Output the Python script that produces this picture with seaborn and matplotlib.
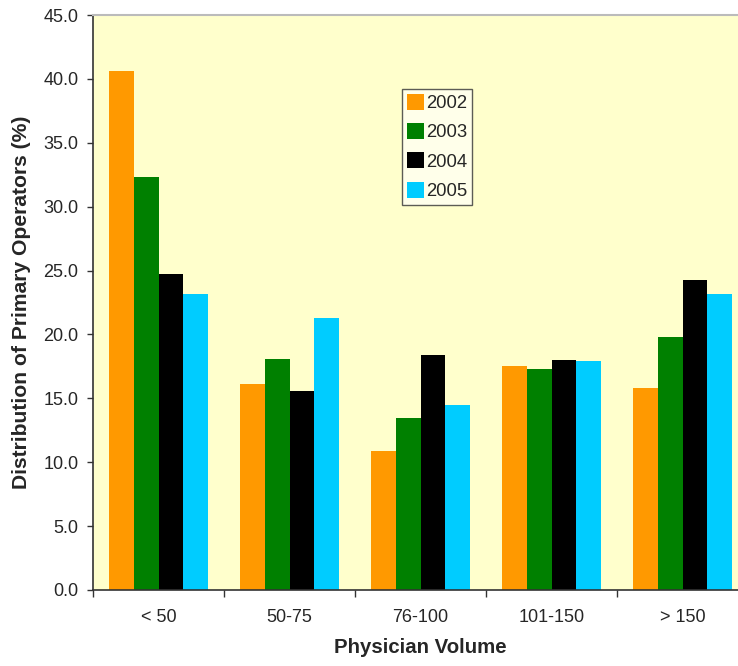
import matplotlib
matplotlib.use("Agg")
import matplotlib.pyplot as plt
import seaborn as sns
import pandas as pd
import numpy as np

categories = ["< 50", "50-75", "76-100", "101-150", "> 150"]
years = ["2002", "2003", "2004", "2005"]
values_2002 = [40.6, 16.1, 10.9, 17.5, 15.8]
values_2003 = [32.3, 18.1, 13.5, 17.3, 19.8]
values_2004 = [24.7, 15.6, 18.4, 18.0, 24.3]
values_2005 = [23.2, 21.3, 14.5, 17.9, 23.2]
colors = ["#FF9900", "#008000", "#000000", "#00CCFF"]
y_ticks = np.arange(0, 45.1, 5)

series = [values_2002, values_2003, values_2004, values_2005]
df = pd.DataFrame(
    [(c, y, v) for y, vals in zip(years, series) for c, v in zip(categories, vals)],
    columns=["volume", "year", "pct"],
)

sns.set_style("white")
plt.rcParams["font.family"] = ["Liberation Sans", "DejaVu Sans"]

fig = plt.figure(figsize=(7.38, 6.66), dpi=100)
ax = fig.add_axes([93 / 738, 76 / 666, 655 / 738, 575 / 666])
ax.set_facecolor("#FFFFCC")

sns.barplot(data=df, x="volume", y="pct", hue="year", order=categories,
            hue_order=years, palette=colors, width=0.75, saturation=1,
            linewidth=0, ax=ax)

ax.set_ylim(0, 45)
ax.set_xlim(-0.5, 4.5)
ax.set_yticks(y_ticks)
ax.set_yticklabels([f"{t:.1f}" for t in y_ticks], fontsize=13)

# category boundaries carry the tick marks, centers carry the labels
ax.set_xticks(np.arange(-0.5, 4.6, 1))
ax.set_xticklabels([])
ax.set_xticks(np.arange(len(categories)), minor=True)
ax.set_xticklabels(categories, minor=True, fontsize=13)
ax.tick_params(axis="x", which="minor", length=0, pad=13.5)
ax.tick_params(axis="x", which="major", direction="out", length=5, width=1,
               color="#333333", bottom=True)
ax.tick_params(axis="y", direction="out", length=4.5, width=1, color="#333333",
               left=True, pad=6)

for side in ["left", "bottom"]:
    ax.spines[side].set_color("#333333")
    ax.spines[side].set_linewidth(1.2)
ax.spines["top"].set_color("#BBBBBB")
ax.spines["top"].set_linewidth(1.5)
ax.spines["right"].set_visible(False)

ax.set_xlabel("Physician Volume", fontsize=14.7, fontweight="bold", labelpad=9)
ax.set_ylabel("Distribution of Primary Operators (%)", fontsize=15.2,
              fontweight="bold", labelpad=8.5)

leg = ax.legend(loc="upper left", bbox_to_anchor=(402 / 738, 1 - 89 / 666),
                bbox_transform=fig.transFigure, frameon=True, fontsize=13.3,
                handlelength=0.95, handleheight=0.95, handletextpad=0.12,
                labelspacing=0.6, borderpad=0.25, borderaxespad=0,
                fancybox=False, title=None)
leg.get_frame().set_facecolor("#FFFFF2")
leg.get_frame().set_edgecolor("#333333")
leg.get_frame().set_linewidth(1.0)

fig.savefig("out.png", dpi=100)
